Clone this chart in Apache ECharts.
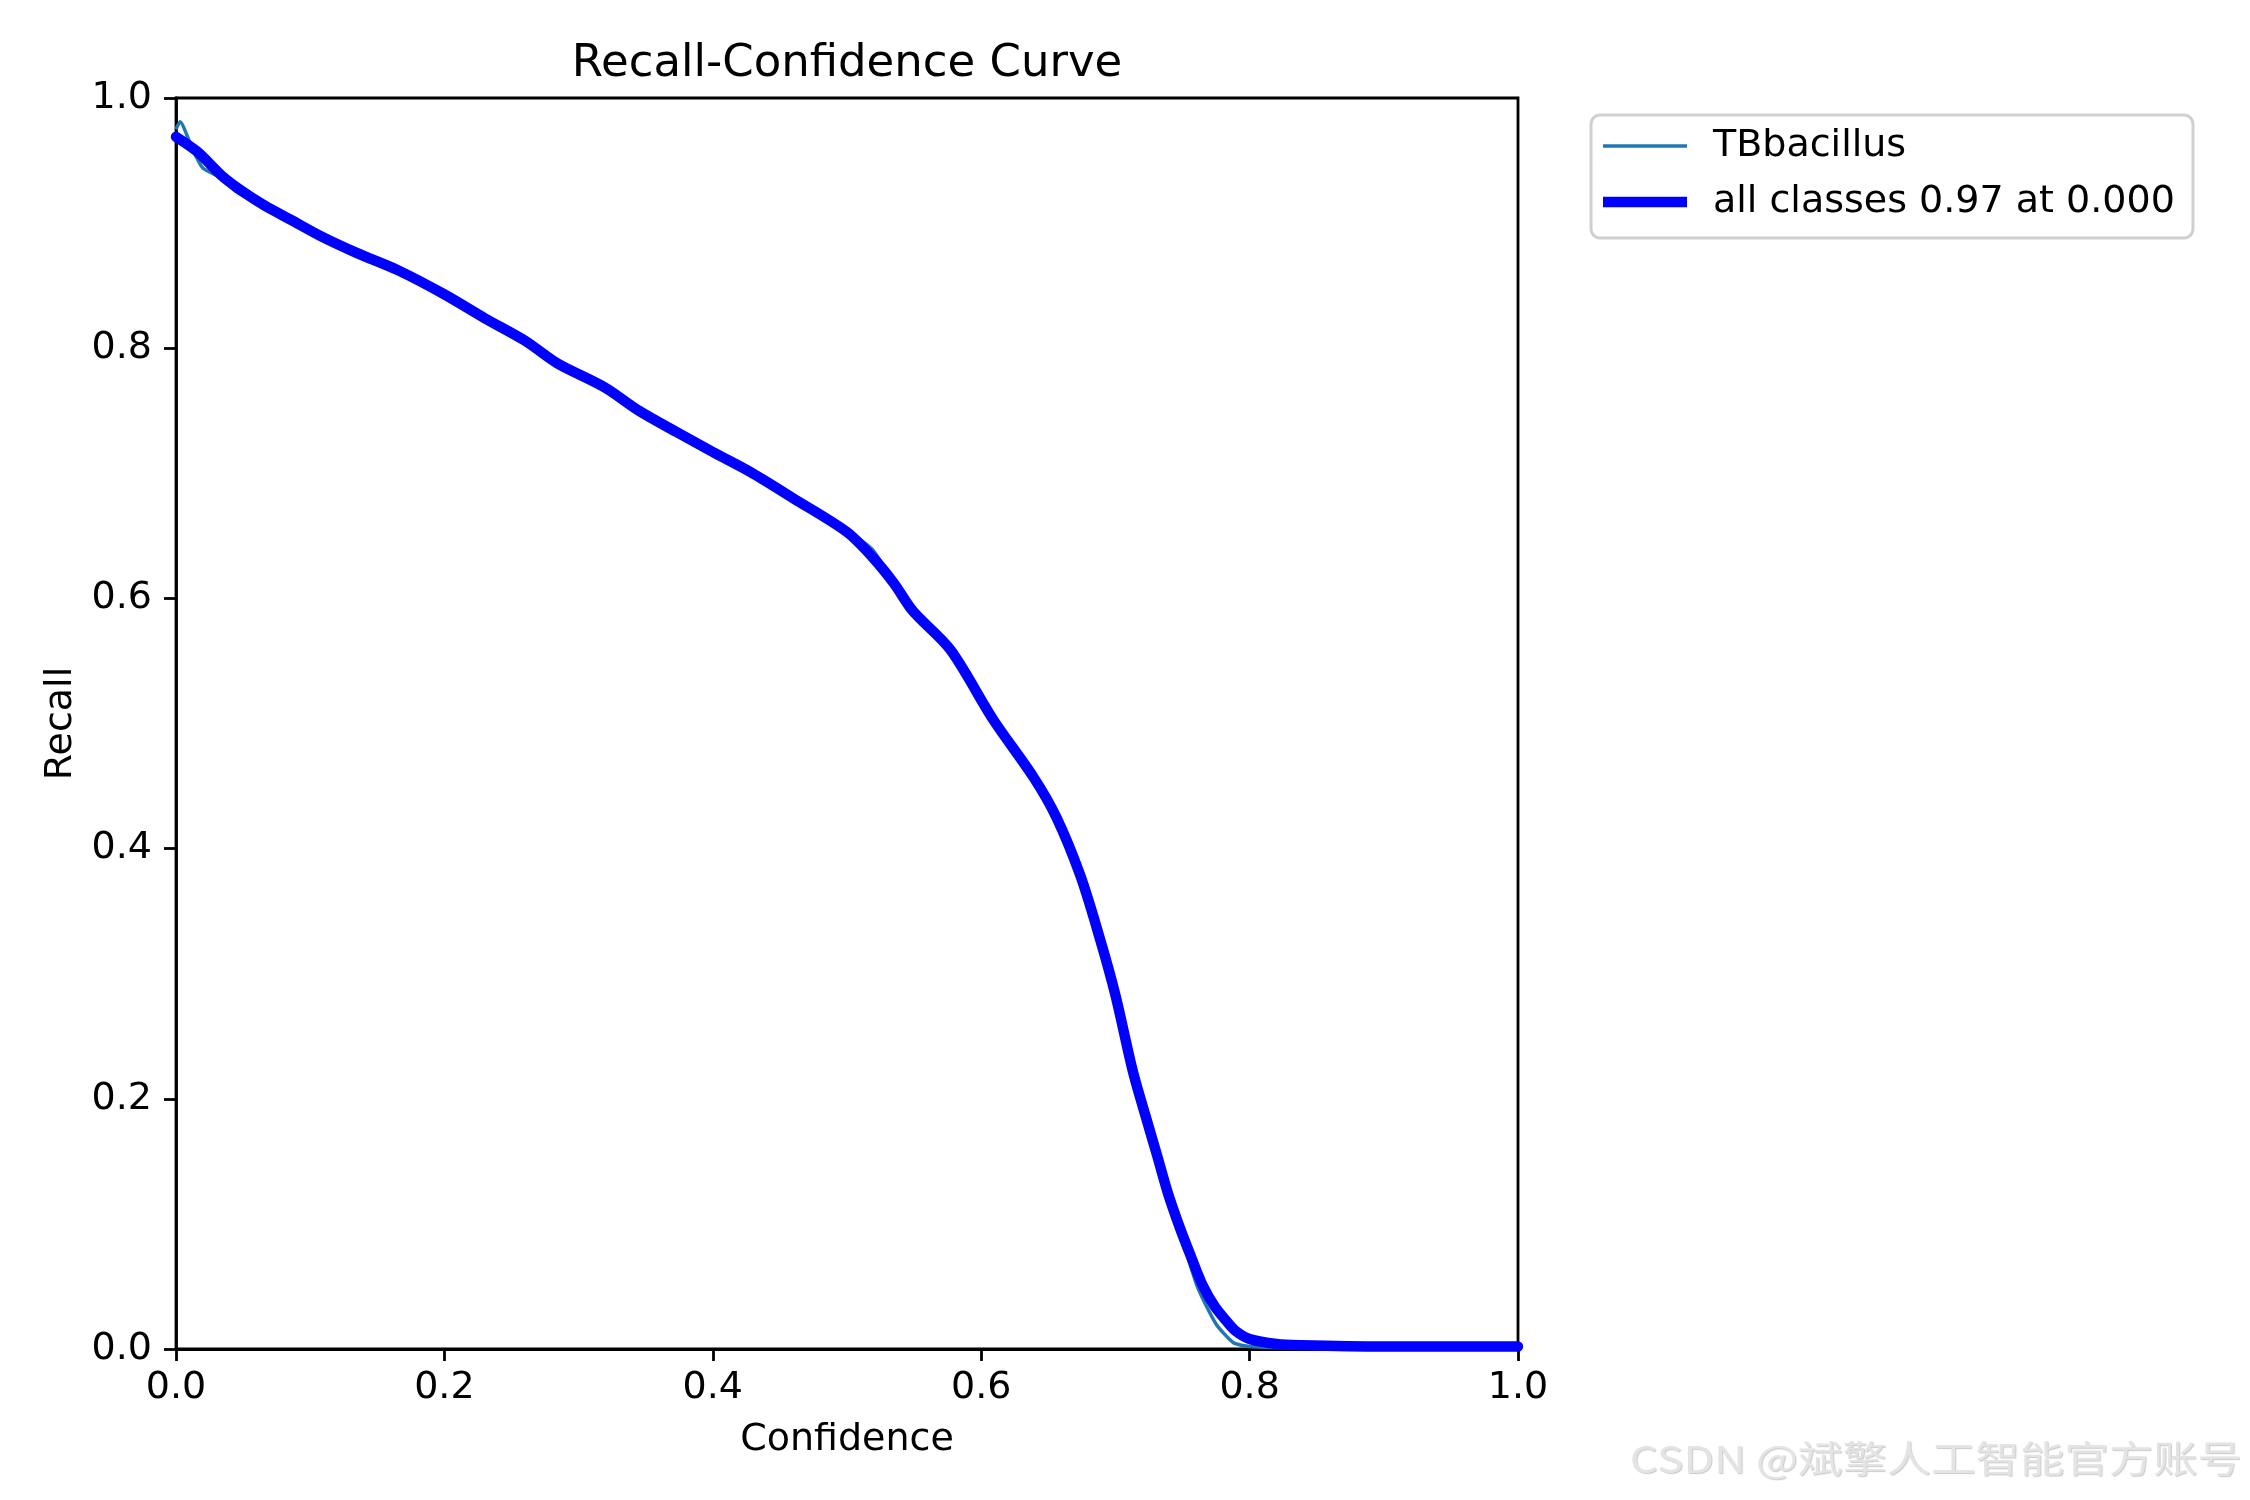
<!DOCTYPE html>
<html>
<head>
<meta charset="utf-8">
<title>Recall-Confidence Curve</title>
<script src="https://cdn.jsdelivr.net/npm/echarts@6/dist/echarts.min.js"></script>
<style>
  html, body { margin: 0; padding: 0; background: #fff; }
  #chart { width: 2250px; height: 1500px; }
</style>
</head>
<body>
<div id="chart"></div>
<script>
// values
var allConf = [0.000, 0.016, 0.034, 0.050, 0.066, 0.085, 0.109, 0.135, 0.166, 0.200,
               0.230, 0.260, 0.284, 0.319, 0.345, 0.373, 0.400, 0.428, 0.460, 0.500,
               0.519, 0.535, 0.549, 0.577, 0.609, 0.639, 0.656, 0.674, 0.689, 0.700,
               0.713, 0.722, 0.731, 0.739, 0.748, 0.757, 0.765, 0.774, 0.783, 0.790,
               0.800, 0.820, 0.838, 0.900, 1.000];
var allRecall = [0.969, 0.957, 0.938, 0.925, 0.914, 0.903, 0.889, 0.876, 0.862, 0.843,
                 0.824, 0.806, 0.788, 0.769, 0.750, 0.733, 0.717, 0.701, 0.680, 0.653,
                 0.633, 0.612, 0.590, 0.559, 0.503, 0.457, 0.425, 0.378, 0.326, 0.283,
                 0.222, 0.188, 0.155, 0.125, 0.097, 0.072, 0.051, 0.034, 0.022, 0.014,
                 0.008, 0.004, 0.003, 0.002, 0.002];

var clsConf = [0.000, 0.003, 0.012, 0.020, 0.034, 0.045, 0.066, 0.109, 0.166, 0.230,
               0.284, 0.345, 0.400, 0.460, 0.500, 0.519, 0.549, 0.577, 0.609, 0.656,
               0.689, 0.713, 0.748, 0.761, 0.775, 0.788, 0.800, 0.838, 1.000];
var clsRecall = [0.975, 0.981, 0.960, 0.944, 0.936, 0.925, 0.913, 0.889, 0.862, 0.824,
                 0.788, 0.750, 0.717, 0.680, 0.654, 0.639, 0.590, 0.559, 0.503, 0.425,
                 0.326, 0.222, 0.095, 0.050, 0.020, 0.005, 0.002, 0.001, 0.001];

var xTicks = [0, 0.2, 0.4, 0.6, 0.8, 1.0];
var yTicks = [0, 0.2, 0.4, 0.6, 0.8, 1.0];

var className = 'TBbacillus';
var allName = 'all classes 0.97 at 0.000';

function pairs(xs, ys) {
    var out = [];
    for (var i = 0; i < xs.length; i++) out.push([xs[i], ys[i]]);
    return out;
}

var font = 'DejaVu Sans';
var myChart = echarts.init(document.getElementById('chart'), null, {renderer: 'canvas'});

// legend box drawn as graphic (matplotlib style: plain line samples)
var legendX = 1591, legendY = 115;

var option = {
    backgroundColor: '#ffffff',
    animation: false,
    grid: {
        left: 176, top: 98, width: 1342, height: 1251,
        show: true, borderColor: '#000', borderWidth: 2.8, backgroundColor: 'transparent'
    },
    xAxis: {
        type: 'value', min: 0, max: 1, interval: 0.2,
        name: 'Confidence', nameLocation: 'middle', nameGap: 72,
        nameTextStyle: {fontFamily: font, fontSize: 38, color: '#000'},
        axisLine: {show: true, onZero: false, lineStyle: {color: '#000', width: 2.8}},
        axisTick: {show: true, inside: false, length: 12, lineStyle: {color: '#000', width: 2.8},
                   customValues: xTicks},
        axisLabel: {fontFamily: font, fontSize: 38, color: '#000', margin: 20,
                    customValues: xTicks,
                    formatter: function (v) { return v.toFixed(1); }},
        splitLine: {show: false}
    },
    yAxis: {
        type: 'value', min: 0, max: 1, interval: 0.2,
        name: 'Recall', nameLocation: 'middle', nameGap: 96, nameRotate: 90,
        nameTextStyle: {fontFamily: font, fontSize: 38, color: '#000'},
        axisLine: {show: true, onZero: false, lineStyle: {color: '#000', width: 2.8}},
        axisTick: {show: true, inside: false, length: 12, lineStyle: {color: '#000', width: 2.8},
                   customValues: yTicks},
        axisLabel: {fontFamily: font, fontSize: 38, color: '#000', margin: 24,
                    customValues: yTicks,
                    formatter: function (v) { return v.toFixed(1); }},
        splitLine: {show: false}
    },
    series: [
        {
            name: className,
            type: 'line',
            data: pairs(clsConf, clsRecall),
            showSymbol: false, symbol: 'none',
            smooth: 0.2,
            color: '#1f77b4',
            lineStyle: {color: '#1f77b4', width: 3.5},
            clip: true
        },
        {
            name: allName,
            type: 'line',
            data: pairs(allConf, allRecall),
            showSymbol: false, symbol: 'none',
            smooth: 0.3,
            color: '#0000ff',
            lineStyle: {color: '#0000ff', width: 10.4, cap: 'round', join: 'round'},
            clip: true
        }
    ],
    graphic: [
        {
            type: 'text', x: 847, y: 64,
            style: {text: 'Recall-Confidence Curve', fontFamily: font, fontSize: 45,
                    fill: '#000', align: 'center', verticalAlign: 'middle'}
        },
        {
            type: 'group', x: legendX, y: legendY,
            children: [
                {
                    type: 'rect', shape: {x: 0, y: 0, width: 602, height: 123, r: 9},
                    style: {fill: 'rgba(255,255,255,0.8)', stroke: '#d0d0d0', lineWidth: 3}
                },
                {
                    type: 'line', shape: {x1: 12, y1: 31, x2: 96, y2: 31},
                    style: {stroke: '#1f77b4', lineWidth: 3.5}
                },
                {
                    type: 'text', x: 122, y: 31,
                    style: {text: className, fontFamily: font, fontSize: 38, fill: '#000',
                            align: 'left', verticalAlign: 'middle'}
                },
                {
                    type: 'line', shape: {x1: 12, y1: 87, x2: 96, y2: 87},
                    style: {stroke: '#0000ff', lineWidth: 10.4}
                },
                {
                    type: 'text', x: 122, y: 87,
                    style: {text: allName, fontFamily: font, fontSize: 38, fill: '#000',
                            align: 'left', verticalAlign: 'middle'}
                }
            ]
        },
        {
            type: 'text', x: 2242, y: 1459, scaleX: 1.2, originX: 0, originY: 0,
            style: {text: 'CSDN @斌擎人工智能官方账号', fontFamily: 'Noto Sans CJK SC', fontSize: 37,
                    fontWeight: 'normal', fill: '#e4e4e4',
                    textShadowColor: 'rgba(150,150,150,0.5)', textShadowOffsetX: 1,
                    textShadowOffsetY: 1, textShadowBlur: 1,
                    align: 'right', verticalAlign: 'middle'}
        }
    ]
};

myChart.setOption(option);
</script>
</body>
</html>
